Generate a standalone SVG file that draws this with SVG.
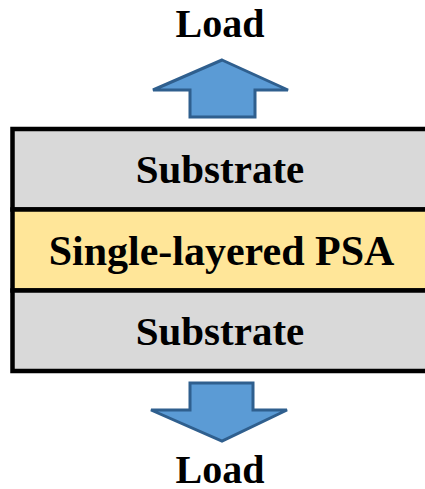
<svg xmlns="http://www.w3.org/2000/svg" width="425" height="489" viewBox="0 0 425 489">
<style>
.lbl{font-family:"Liberation Serif","Times New Roman",serif;font-weight:bold;fill:#000;text-anchor:middle}
.layer{stroke:#000;stroke-width:4.5}
.arrow{fill:#5B9BD5;stroke:#2F5F8E;stroke-width:3;stroke-linejoin:miter}
</style>
<rect width="425" height="489" fill="#fff"/>
<g id="load-top">
<polygon class="arrow" points="222,60 288,90 255,90 255,117 190,117 190,90 153,90"/>
<text class="lbl" x="220" y="37" font-size="40">Load</text>
</g>
<g id="substrate-top">
<rect class="layer" x="12.5" y="129" width="420" height="80.5" fill="#D9D9D9"/>
<text class="lbl" x="220" y="183" font-size="41">Substrate</text>
</g>
<g id="psa">
<rect class="layer" x="12.5" y="209.5" width="420" height="81" fill="#FFE699"/>
<text class="lbl" x="221.5" y="265" font-size="42">Single-layered PSA</text>
</g>
<g id="substrate-bottom">
<rect class="layer" x="12.5" y="290.5" width="420" height="80.5" fill="#D9D9D9"/>
<text class="lbl" x="220" y="345" font-size="41">Substrate</text>
</g>
<g id="load-bottom">
<polygon class="arrow" points="190,383 253,383 253,410 287,410 222,441 151,410 190,410"/>
<text class="lbl" x="220" y="483" font-size="40">Load</text>
</g>
<g id="connectors"></g>
</svg>
